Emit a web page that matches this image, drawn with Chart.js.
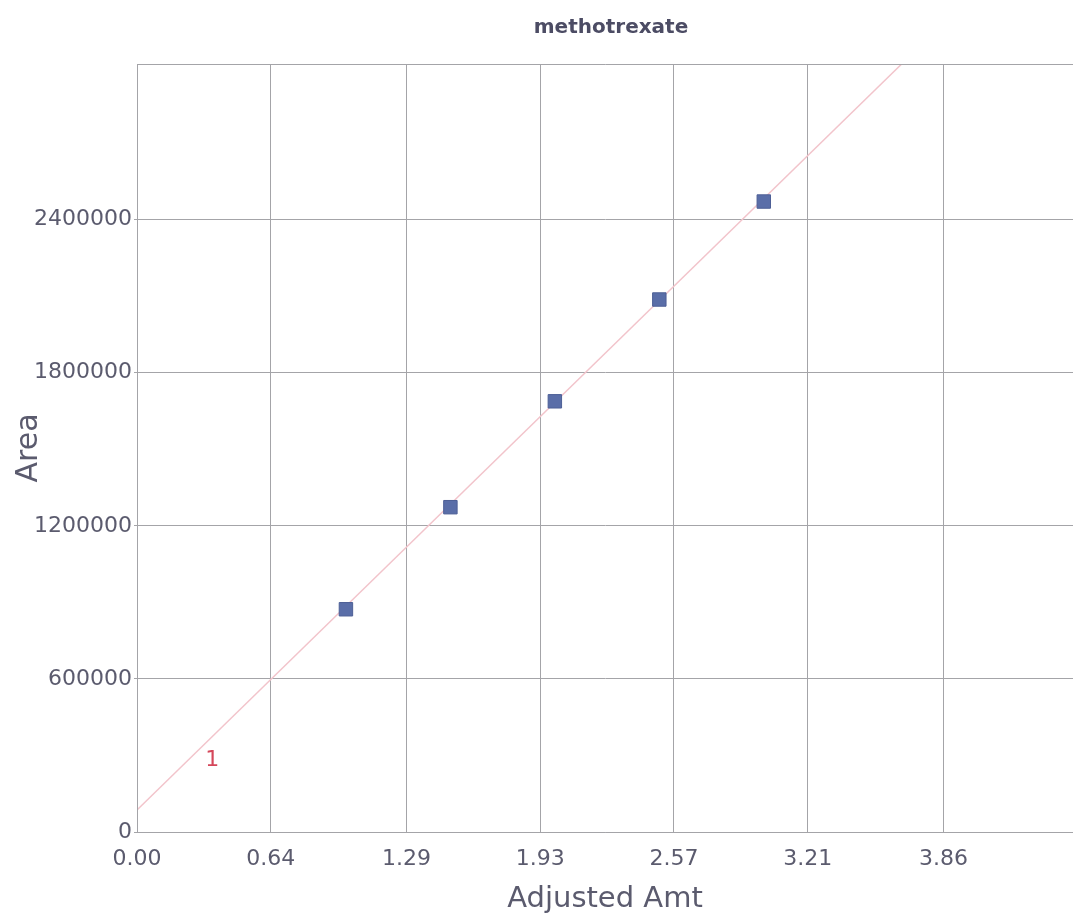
<!DOCTYPE html>
<html>
<head>
<meta charset="utf-8">
<script src="https://cdn.jsdelivr.net/npm/chart.js@4/dist/chart.umd.min.js"></script>
<style>
  html, body { margin: 0; padding: 0; background: #fff; overflow: hidden; }
  canvas { display: block; }
</style>
</head>
<body>
<canvas id="chart" width="1073" height="921"></canvas>
<script>
// data
const amt = [1.0, 1.5, 2.0, 2.5, 3.0];
const area = [873000, 1273000, 1688000, 2087000, 2471000];
// calibration line endpoints
const fitX = [0, 3.66];
const fitY = [86000, 3010000];
// point label
const labelX = [0.36];
const labelY = [282000];
const labelText = ['1'];
// ticks
const xTicks = [0, 0.64, 1.29, 1.93, 2.57, 3.21, 3.86];
const yTicks = [0, 600000, 1200000, 1800000, 2400000];

const txtColor = '#5b5b6e';
const gridColor = '#a4a4a8';
const fontFam = "'DejaVu Sans', sans-serif";

const extras = {
  id: 'extras',
  afterDatasetsDraw(chart) {
    const ctx = chart.ctx, a = chart.chartArea;
    const xs = chart.scales.x, ys = chart.scales.y;
    ctx.save();
    // frame of the plot
    ctx.strokeStyle = gridColor;
    ctx.lineWidth = 1;
    ctx.beginPath();
    ctx.moveTo(a.left + 0.5, a.bottom);
    ctx.lineTo(a.left + 0.5, a.top + 0.5);
    ctx.lineTo(a.right, a.top + 0.5);
    ctx.stroke();
    // labels near points
    ctx.fillStyle = '#d5475a';
    ctx.font = '22px ' + fontFam;
    ctx.textAlign = 'center';
    ctx.textBaseline = 'middle';
    for (let i = 0; i < labelText.length; i++) {
      ctx.fillText(labelText[i], xs.getPixelForValue(labelX[i]), ys.getPixelForValue(labelY[i]));
    }
    // title
    ctx.fillStyle = '#4c4c64';
    ctx.font = 'bold 20px ' + fontFam;
    ctx.fillText('methotrexate', (a.left + a.right) / 2 + 6, 28);
    ctx.restore();
  }
};

new Chart(document.getElementById('chart'), {
  type: 'scatter',
  data: {
    datasets: [
      {
        type: 'line',
        label: 'fit',
        data: fitX.map((x, i) => ({x: x, y: fitY[i]})),
        borderColor: '#f2c4cb',
        borderWidth: 1.5,
        pointRadius: 0,
        fill: false,
        order: 2
      },
      {
        label: 'methotrexate',
        data: amt.map((x, i) => ({x: x, y: area[i]})),
        pointStyle: 'rect',
        pointRadius: 9.5,
        backgroundColor: '#5a6ea8',
        borderColor: '#4d5f96',
        borderWidth: 1,
        order: 1
      }
    ]
  },
  options: {
    responsive: false,
    animation: false,
    layout: { autoPadding: false, padding: { top: 64, right: 0, left: 0, bottom: 0 } },
    plugins: {
      legend: { display: false },
      title: { display: false },
      tooltip: { enabled: false }
    },
    scales: {
      x: {
        type: 'linear',
        min: 0,
        max: 4.48,
        afterBuildTicks: s => { s.ticks = xTicks.map(v => ({value: v})); },
        afterFit: s => { s.height = 89; s.paddingRight = 0; s.paddingLeft = 0; },
        grid: { color: gridColor, lineWidth: 1, tickLength: 0 },
        border: { color: gridColor },
        ticks: {
          color: txtColor,
          font: { family: fontFam, size: 22 },
          padding: 14,
          maxRotation: 0,
          callback: v => Number(v).toFixed(2)
        },
        title: {
          display: true,
          text: 'Adjusted Amt',
          color: txtColor,
          font: { family: fontFam, size: 29 },
          padding: { top: 0, bottom: 4 }
        }
      },
      y: {
        type: 'linear',
        min: 0,
        max: 3010000,
        afterBuildTicks: s => { s.ticks = yTicks.map(v => ({value: v})); },
        afterFit: s => { s.width = 137; },
        grid: { color: gridColor, lineWidth: 1, tickLength: 3 },
        border: { color: gridColor },
        ticks: {
          color: txtColor,
          font: { family: fontFam, size: 22 },
          padding: 2,
          callback: v => String(v)
        },
        title: {
          display: true,
          text: 'Area',
          color: txtColor,
          font: { family: fontFam, size: 30 },
          padding: { top: 11, bottom: 0 }
        }
      }
    }
  },
  plugins: [extras]
});
</script>
</body>
</html>
